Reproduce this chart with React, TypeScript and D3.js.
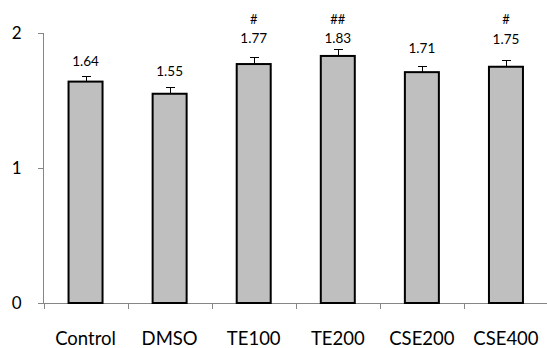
import React from "react";
import * as d3 from "d3";

const categories = ["Control", "DMSO", "TE100", "TE200", "CSE200", "CSE400"];
const values = [1.64, 1.55, 1.77, 1.83, 1.71, 1.75];
const errors = [0.045, 0.05, 0.05, 0.05, 0.047, 0.047];
const valueLabels = ["1.64", "1.55", "1.77", "1.83", "1.71", "1.75"];
const significance = ["", "", "#", "##", "", "#"];
// annotation anchor levels (data units) for value labels and significance marks
const labelLevels = [1.756, 1.681, 1.926, 1.926, 1.852, 1.919];
const sigLevels = [2.07, 2.07, 2.07, 2.07, 2.07, 2.07];
const yTicks = [0, 1, 2];

const W = 547;
const H = 348;
const FONT = "Lato, 'Liberation Sans', sans-serif";

export default function App() {
  const x = d3.scaleBand<string>().domain(categories).range([43.5, 548]).paddingInner(0).paddingOuter(0);
  const y = d3.scaleLinear().domain([0, 2]).range([303, 33]);
  const bw = 34;
  const axisColor = "#868686";

  return (
    <svg width={W} height={H} style={{ position: "absolute", left: 0, top: 0, background: "#fff" }}>
      {/* y axis */}
      <line x1={43.5} x2={43.5} y1={y(2)} y2={y(0)} stroke={axisColor} strokeWidth={1} />
      {yTicks.map((t) => (
        <g key={t}>
          <line x1={38} x2={43.5} y1={Math.round(y(t)) + 0.5} y2={Math.round(y(t)) + 0.5} stroke={axisColor} />
          <text x={21.5} y={y(t)} dy="0.36em" textAnchor="end" fontFamily={FONT} fontSize={17} fill="#000">
            {t}
          </text>
        </g>
      ))}
      {/* x axis */}
      <line x1={38} x2={W} y1={303.5} y2={303.5} stroke={axisColor} strokeWidth={1} />
      {categories.map((c) => (
        <line key={"t" + c} x1={Math.round(x(c)!) + 0.5} x2={Math.round(x(c)!) + 0.5} y1={303.5} y2={309} stroke={axisColor} />
      ))}
      {categories.map((c) => (
        <text key={"l" + c} x={x(c)! + x.bandwidth() / 2} y={345} textAnchor="middle" fontFamily={FONT} fontSize={18.5} fill="#000">
          {c}
        </text>
      ))}
      {/* error bars */}
      {categories.map((c, i) => {
        const cx = Math.round(x(c)! + x.bandwidth() / 2) + 0.5;
        const top = Math.round(y(values[i] + errors[i])) + 0.5;
        return (
          <g key={"e" + c}>
            <line x1={cx} x2={cx} y1={y(values[i])} y2={top} stroke="#000" strokeWidth={1} />
            <line x1={cx - 4.5} x2={cx + 4.5} y1={top} y2={top} stroke="#000" strokeWidth={1} />
          </g>
        );
      })}
      {/* bars */}
      {categories.map((c, i) => {
        const cx = x(c)! + x.bandwidth() / 2;
        return (
          <rect
            key={"b" + c}
            x={cx - bw / 2}
            y={y(values[i])}
            width={bw}
            height={y(0) - y(values[i])}
            fill="#bfbfbf"
            stroke="#000"
            strokeWidth={2}
          />
        );
      })}
      {/* value labels */}
      {categories.map((c, i) => (
        <text key={"v" + c} x={x(c)! + x.bandwidth() / 2} y={y(labelLevels[i])} textAnchor="middle" fontFamily={FONT} fontSize={13.5} fill="#000">
          {valueLabels[i]}
        </text>
      ))}
      {categories.map((c, i) =>
        significance[i] ? (
          <text key={"s" + c} x={x(c)! + x.bandwidth() / 2} y={y(sigLevels[i])} textAnchor="middle" fontFamily={FONT} fontSize={13} fill="#000">
            {significance[i]}
          </text>
        ) : null
      )}
    </svg>
  );
}
